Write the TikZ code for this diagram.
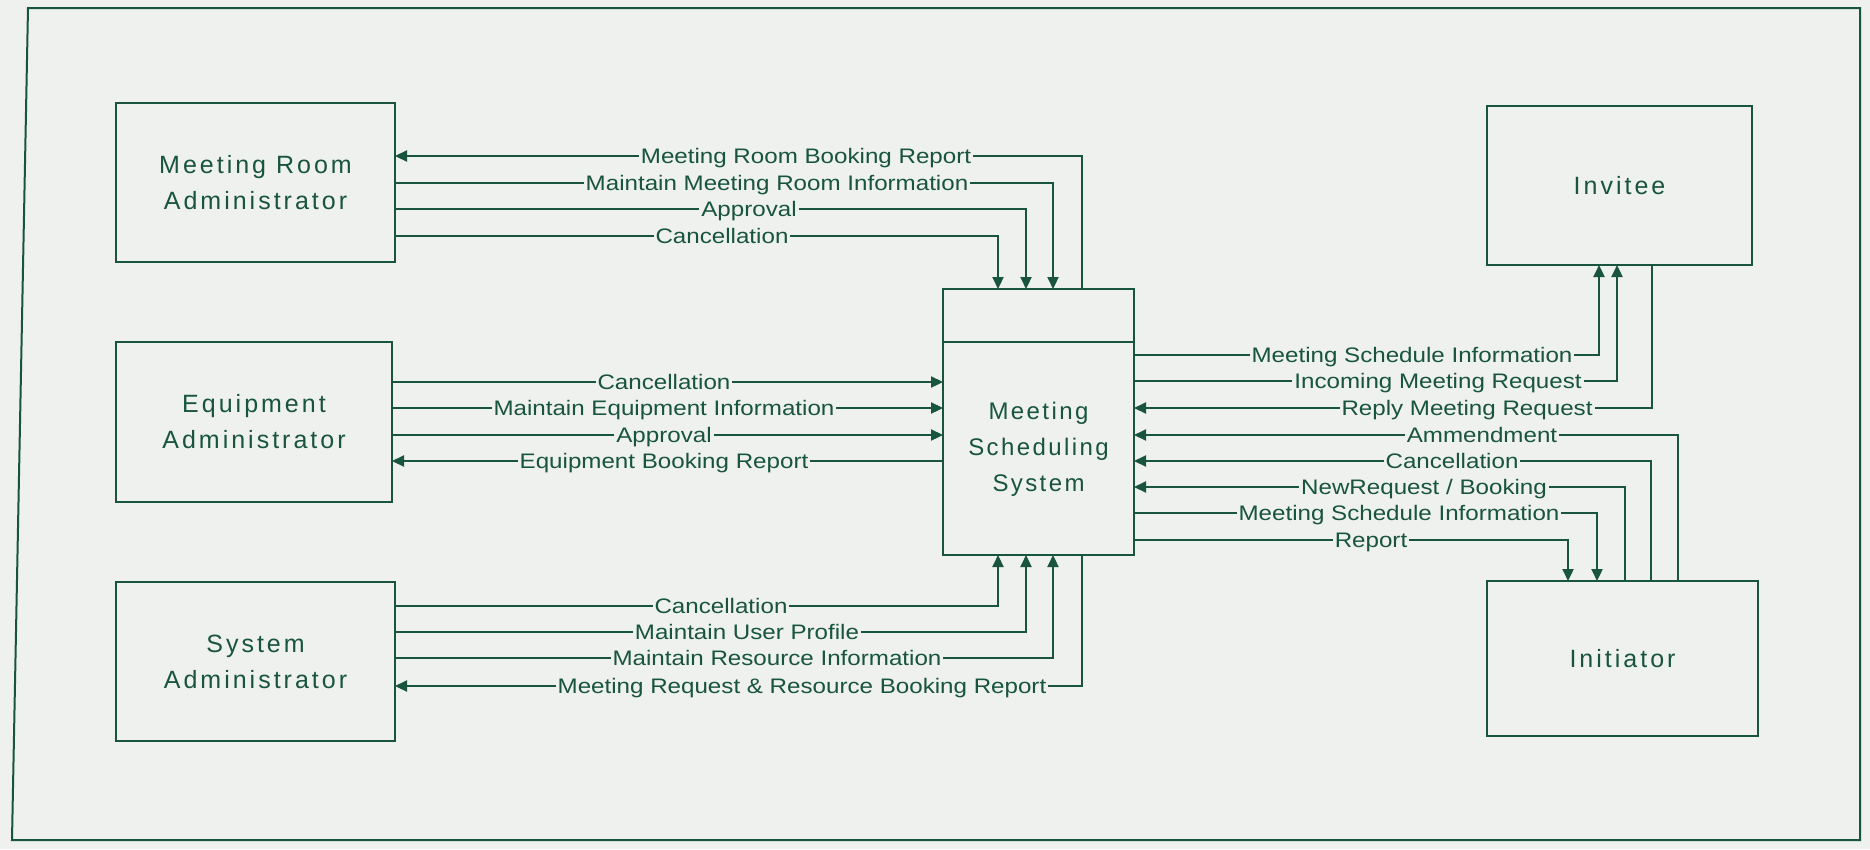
\documentclass[tikz,border=0pt]{standalone}
\usepackage{fontspec}
\setmainfont{Liberation Sans}
\newfontfamily\labfont[FakeStretch=1.15]{Liberation Sans}
\newfontfamily\boxfont[LetterSpace=12]{Liberation Sans}
\newfontfamily\sysfont[LetterSpace=10]{Liberation Sans}
\usetikzlibrary{arrows.meta}
\definecolor{ink}{RGB}{24,84,62}
\definecolor{bg}{RGB}{238,241,238}
\begin{document}
\begin{tikzpicture}[x=1pt,y=-1pt,
  entity/.style={draw=ink, line width=2.6pt, inner sep=0pt, outer sep=0pt, align=center,
    text=ink, font=\boxfont\fontsize{25}{36}\selectfont},
  boxtext/.style={align=center, text=ink, font=\sysfont\fontsize{24}{36}\selectfont},
  flow/.style={draw=ink, line width=2.2pt},
  arr/.style={flow, -{Triangle[length=12pt,width=11pt]}},
  lab/.style={anchor=base, yshift=-7.5pt, fill=bg, inner sep=2pt, text=ink,
    font=\labfont\fontsize{21}{24}\selectfont}]
\fill[bg] (0,0) rectangle (1870,849);
\useasboundingbox (0,0) rectangle (1870,849);
% frame
\draw[ink, line width=2pt] (28,8) -- (1860,8) -- (1860,840) -- (12,840) -- cycle;
% entities
\node[entity, minimum width=279pt, minimum height=159pt] (mra) at (255.5,182.5) {Meeting Room\\Administrator};
\node[entity, minimum width=276pt, minimum height=160pt] (ea) at (254,422) {Equipment\\Administrator};
\node[entity, minimum width=279pt, minimum height=159pt] (sa) at (255.5,661.5) {System\\Administrator};
\node[entity, minimum width=191pt, minimum height=266pt] (mss) at (1038.5,422) {};
\draw[ink, line width=2.6pt] (mss.west |- 0,342) -- (mss.east |- 0,342);
\node[boxtext] (msst) at (1038.5,449) {Meeting\\Scheduling\\System};
\node[entity, minimum width=265pt, minimum height=159pt] (inv) at (1619.5,185.5) {Invitee};
\node[entity, minimum width=271pt, minimum height=155pt] (ini) at (1622.5,658.5) {Initiator};
% Meeting Room Administrator flows
\draw[arr] (mss.north -| 1082,0) |- (mra.east |- 0,156);
\draw[arr] (mra.east |- 0,183) -| (mss.north -| 1053,0);
\draw[arr] (mra.east |- 0,209) -| (mss.north -| 1026,0);
\draw[arr] (mra.east |- 0,236) -| (mss.north -| 998,0);
\node[lab] (l1) at (806,156) {Meeting Room Booking Report};
\node[lab] (l2) at (777,183) {Maintain Meeting Room Information};
\node[lab] (l3) at (749,209) {Approval};
\node[lab] (l4) at (722,236) {Cancellation};
% Equipment Administrator flows
\draw[arr] (ea.east |- 0,382) -- (mss.west |- 0,382);
\draw[arr] (ea.east |- 0,408) -- (mss.west |- 0,408);
\draw[arr] (ea.east |- 0,435) -- (mss.west |- 0,435);
\draw[arr] (mss.west |- 0,461) -- (ea.east |- 0,461);
\node[lab] (l5) at (664,382) {Cancellation};
\node[lab] (l6) at (664,408) {Maintain Equipment Information};
\node[lab] (l7) at (664,435) {Approval};
\node[lab] (l8) at (664,461) {Equipment Booking Report};
% System Administrator flows
\draw[arr] (sa.east |- 0,606) -| (mss.south -| 998,0);
\draw[arr] (sa.east |- 0,632) -| (mss.south -| 1026,0);
\draw[arr] (sa.east |- 0,658) -| (mss.south -| 1053,0);
\draw[arr] (mss.south -| 1082,0) |- (sa.east |- 0,686);
\node[lab] (l9) at (721,606) {Cancellation};
\node[lab] (l10) at (747,632) {Maintain User Profile};
\node[lab] (l11) at (777,658) {Maintain Resource Information};
\node[lab] (l12) at (802,686) {Meeting Request \& Resource Booking Report};
% Invitee / Initiator flows
\draw[arr] (mss.east |- 0,355) -| (inv.south -| 1599,0);
\draw[arr] (mss.east |- 0,381) -| (inv.south -| 1617,0);
\draw[arr] (inv.south -| 1652,0) |- (mss.east |- 0,408);
\draw[arr] (ini.north -| 1678,0) |- (mss.east |- 0,435);
\draw[arr] (ini.north -| 1651,0) |- (mss.east |- 0,461);
\draw[arr] (ini.north -| 1625,0) |- (mss.east |- 0,487);
\draw[arr] (mss.east |- 0,513) -| (ini.north -| 1597,0);
\draw[arr] (mss.east |- 0,540) -| (ini.north -| 1568,0);
\node[lab] (r1) at (1412,355) {Meeting Schedule Information};
\node[lab] (r2) at (1438,381) {Incoming Meeting Request};
\node[lab] (r3) at (1467,408) {Reply Meeting Request};
\node[lab] (r4) at (1482,435) {Ammendment};
\node[lab] (r5) at (1452,461) {Cancellation};
\node[lab] (r6) at (1424,487) {NewRequest / Booking};
\node[lab] (r7) at (1399,513) {Meeting Schedule Information};
\node[lab] (r8) at (1371,540) {Report};
\end{tikzpicture}
\end{document}
